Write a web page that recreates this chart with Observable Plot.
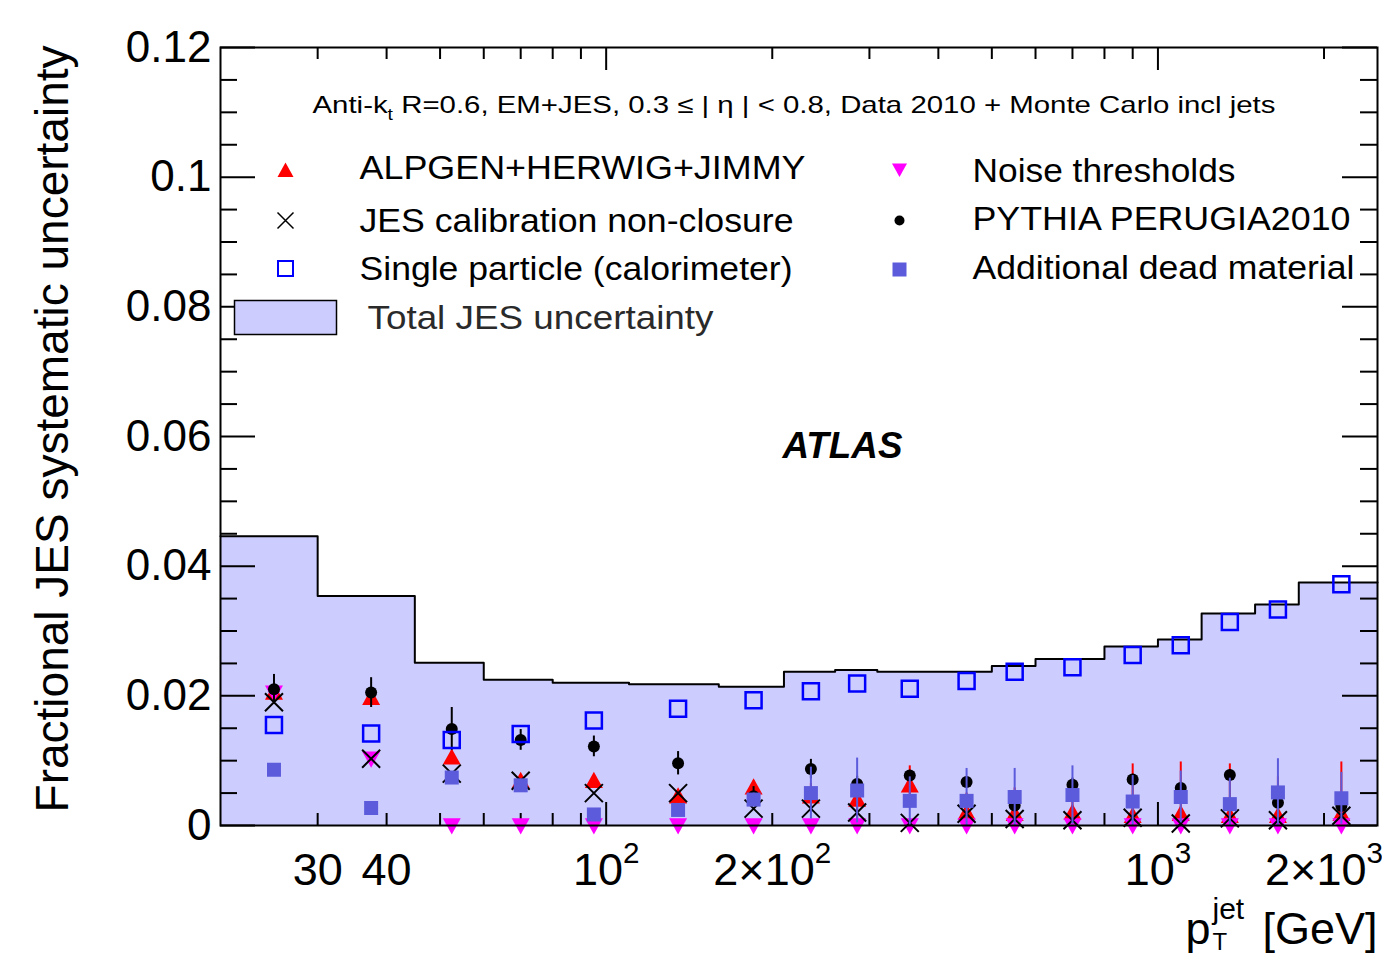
<!DOCTYPE html>
<html><head><meta charset="utf-8">
<script src="https://cdn.jsdelivr.net/npm/d3@7"></script>
<script src="https://cdn.jsdelivr.net/npm/@observablehq/plot@0.6"></script>
<style>body{margin:0;background:#fff}</style>
</head><body><div id="chart"></div>
<script>
// ---- data ----
const binEdges = [20,30,45,60,80,110,160,210,260,310,400,500,600,800,1000,1200,1500,1800,2500];
const totalJES = [0.0446,0.0354,0.0251,0.0225,0.0220,0.0218,0.0214,0.0237,0.0240,0.0237,0.0237,0.0246,0.0257,0.0276,0.0287,0.0327,0.0341,0.0375];
const ptCenters = [25,37.5,52.5,70,95,135,185,235,285,355,450,550,700,900,1100,1350,1650,2150];
const alpgen    = [0.0205,0.0197,0.0105,0.0069,0.0069,0.0045,0.0059,0.0045,0.0040,0.0062,0.0020,0.0018,0.0020,0.0015,0.0018,0.0015,0.0015,0.0018];
const alpgenErr = [0.0010,0.0010,0.0010,0.0008,0.0008,0.0010,0.0010,0.0020,0.0030,0.0030,0.0030,0.0040,0.0040,0.0080,0.0080,0.0080,0.0060,0.0080];
const noise     = [0.0205,0.0103,0,0,0,0,0,0,0,0,0,0,0,0,0,0,0,0];
const pythia    = [0.0210,0.0205,0.0149,0.0132,0.0122,0.0096,0.0045,0.0087,0.0064,0.0077,0.0067,0.0031,0.0063,0.0071,0.0058,0.0078,0.0035,0.0030];
const pythiaErr = [0.0023,0.0023,0.0033,0.0016,0.0016,0.0018,0.0015,0.0015,0.0012,0.0008,0.0008,0.0008,0.0010,0.0008,0.0008,0.0008,0.0008,0.0008];
const jesNonClosure = [0.0190,0.0103,0.0080,0.0069,0.0050,0.0050,0.0026,0.0026,0.0020,0.0004,0.0018,0.0010,0.0008,0.0012,0.0003,0.0011,0.0008,0.0015];
const singleParticle = [0.0155,0.0142,0.0132,0.0141,0.0162,0.0180,0.0193,0.0207,0.0219,0.0211,0.0223,0.0237,0.0244,0.0263,0.0278,0.0314,0.0333,0.0372];
const deadMaterial = [0.0086,0.0027,0.0074,0.0062,0.0017,0.0024,0.0040,0.0050,0.0054,0.0038,0.0038,0.0044,0.0047,0.0037,0.0044,0.0033,0.0051,0.0042];
const deadErr      = [0,0,0,0,0.0005,0.0008,0.0010,0.0040,0.0050,0.0037,0.0050,0.0044,0.0045,0.0040,0.0040,0.0040,0.0052,0.0040];

const yTickValues = [0,0.02,0.04,0.06,0.08,0.1,0.12];
const yTickLabels = ["0","0.02","0.04","0.06","0.08","0.1","0.12"];
const yMinorValues = d3.range(0,0.1201,0.005).filter(v => !yTickValues.some(t => Math.abs(t-v)<1e-9));
const xTickValues = [30,40,100,200,1000,2000];
const xTickLabels = ["30","40","10^{2}","2\u00D710^{2}","10^{3}","2\u00D710^{3}"];
const xMajorValues = [100,1000];
const xMinorValues = [30,40,50,60,70,80,90,200,300,400,500,600,700,800,900,2000];

const headerText = "Anti-k_{t} R=0.6, EM+JES, 0.3 \u2264 | \u03B7 | < 0.8, Data 2010 + Monte Carlo incl jets";
const legendLeft = ["ALPGEN+HERWIG+JIMMY","JES calibration non-closure","Single particle (calorimeter)"];
const legendRight = ["Noise thresholds","PYTHIA PERUGIA2010","Additional dead material"];
const totalLabel = "Total JES uncertainty";
const yLabel = "Fractional JES systematic uncertainty";

// ---- tables ----
const steps = binEdges.map((e,i) => ({x: e, y: totalJES[Math.min(i, totalJES.length-1)]}));
const pts = ptCenters.map((x,i) => ({x, alpgen: alpgen[i], alpgenErr: alpgenErr[i], noise: noise[i], pythia: pythia[i], pythiaErr: pythiaErr[i], jes: jesNonClosure[i], single: singleParticle[i], dead: deadMaterial[i], deadErr: deadErr[i]}));

// ---- styles ----
const FILL = "#ccccff", DEAD = "#5b5bdc", PX_PER_DECADE = 1157/Math.log10(2500/20), PX_PER_Y = 778/0.12;
const sym = fn => ({draw(c, size){ const r = Math.sqrt(size/Math.PI); fn(c, r); }});
const triUp = sym((c,r)=>{c.moveTo(0,-r); c.lineTo(r,r*0.8); c.lineTo(-r,r*0.8); c.closePath();});
const triDown = sym((c,r)=>{c.moveTo(0,r); c.lineTo(r,-r*0.8); c.lineTo(-r,-r*0.8); c.closePath();});
const sq = sym((c,r)=>{c.moveTo(-r,-r); c.lineTo(r,-r); c.lineTo(r,r); c.lineTo(-r,r); c.closePath();});
const cross = sym((c,r)=>{c.moveTo(-r,-r); c.lineTo(r,r); c.moveTo(r,-r); c.lineTo(-r,r);});
const boxSym = {draw(c){ c.moveTo(-51,-17); c.lineTo(51,-17); c.lineTo(51,17); c.lineTo(-51,17); c.closePath(); }};

const xLen = px => 20*Math.pow(10, px/PX_PER_DECADE);
const xLenR = px => 2500/Math.pow(10, px/PX_PER_DECADE);
const yLen = px => px/PX_PER_Y;

const legendFont = 34;
const marks = [
  Plot.areaY(steps, {x:"x", y:"y", curve:"step-after", fill: FILL}),
  Plot.lineY(steps, {x:"x", y:"y", curve:"step-after", stroke:"black", strokeWidth: 2}),
  // ticks
  Plot.ruleY(yTickValues, {y: d=>d, x1: 20, x2: xLen(35), stroke:"black", strokeWidth: 2}),
  Plot.ruleY(yMinorValues, {y: d=>d, x1: 20, x2: xLen(17), stroke:"black", strokeWidth: 2}),
  Plot.ruleY(yTickValues, {y: d=>d, x1: xLenR(35), x2: 2500, stroke:"black", strokeWidth: 2}),
  Plot.ruleY(yMinorValues, {y: d=>d, x1: xLenR(17), x2: 2500, stroke:"black", strokeWidth: 2}),
  Plot.ruleX(xMajorValues, {x: d=>d, y1: 0, y2: yLen(23), stroke:"black", strokeWidth: 2}),
  Plot.ruleX(xMinorValues, {x: d=>d, y1: 0, y2: yLen(12), stroke:"black", strokeWidth: 2}),
  Plot.ruleX(xMajorValues, {x: d=>d, y1: 0.12 - yLen(23), y2: 0.12, stroke:"black", strokeWidth: 2}),
  Plot.ruleX(xMinorValues, {x: d=>d, y1: 0.12 - yLen(12), y2: 0.12, stroke:"black", strokeWidth: 2}),
  // series
  Plot.ruleX(pts, {x:"x", y1: d=>Math.max(0,d.alpgen-d.alpgenErr), y2: d=>d.alpgen+d.alpgenErr, stroke:"red", strokeWidth: 2}),
  Plot.dot(pts, {x:"x", y:"alpgen", symbol: triUp, r: 9, fill:"red", stroke:"none"}),
  Plot.dot(pts, {x:"x", y:"noise", symbol: triDown, r: 9, fill:"#ff00ff", stroke:"none"}),
  Plot.ruleX(pts, {x:"x", y1: d=>Math.max(0,d.pythia-d.pythiaErr), y2: d=>d.pythia+d.pythiaErr, stroke:"black", strokeWidth: 2}),
  Plot.dot(pts, {x:"x", y:"pythia", r: 6, fill:"black", stroke:"none"}),
  Plot.dot(pts, {x:"x", y:"jes", symbol: cross, r: 9, fill:"none", stroke:"black", strokeWidth: 2}),
  Plot.dot(pts, {x:"x", y:"single", symbol: sq, r: 8, fill:"none", stroke:"#0000ff", strokeWidth: 2.5}),
  Plot.ruleX(pts.filter(d=>d.deadErr>0), {x:"x", y1: d=>Math.max(0,d.dead-d.deadErr), y2: d=>d.dead+d.deadErr, stroke: DEAD, strokeWidth: 2}),
  Plot.dot(pts, {x:"x", y:"dead", symbol: sq, r: 7, fill: DEAD, stroke:"none"}),
  Plot.frame({stroke:"black", strokeWidth: 2}),
  // axis labels
  Plot.text(yTickValues, {y: d=>d, frameAnchor:"left", dx:-9, textAnchor:"end", lineAnchor:"middle", text:(d,i)=>yTickLabels[i], fontSize: 44, fill:"black"}),
  Plot.text(xTickValues, {x: d=>d, frameAnchor:"bottom", dy: 45, textAnchor:"middle", lineAnchor:"middle", text:(d,i)=>xTickLabels[i], fontSize: 45, fill:"black"}),
  Plot.text([yLabel], {frameAnchor:"top-left", dx:-167, dy:-2, rotate:-90, textAnchor:"end", lineAnchor:"middle", fontSize: 46, fill:"black"}),
  Plot.text(["p"], {frameAnchor:"bottom-right", dx:-192, dy:104, textAnchor:"start", lineAnchor:"middle", fontSize: 45, fill:"black"}),
  Plot.text(["jet"], {frameAnchor:"bottom-right", dx:-165, dy:84, textAnchor:"start", lineAnchor:"middle", fontSize: 30, fill:"black"}),
  Plot.text(["T"], {frameAnchor:"bottom-right", dx:-165, dy:117, textAnchor:"start", lineAnchor:"middle", fontSize: 24, fill:"black"}),
  Plot.text(["[GeV]"], {frameAnchor:"bottom-right", dx:0, dy:104, textAnchor:"end", lineAnchor:"middle", fontSize: 45, fill:"black"}),
  // header / annotations
  Plot.text([headerText], {frameAnchor:"top-left", dx:92, dy:57.5, textAnchor:"start", lineAnchor:"middle", fontSize: 24, fill:"black"}),
  Plot.text(["ATLAS"], {frameAnchor:"top-left", dx:622, dy:399, textAnchor:"middle", lineAnchor:"middle", fontSize: 36, fontWeight:"bold", fontStyle:"italic", fill:"black"}),
  // legend symbols
  Plot.dot([0], {frameAnchor:"top-left", dx:65, dy:123, symbol: triUp, r: 8, fill:"red", stroke:"none"}),
  Plot.dot([0], {frameAnchor:"top-left", dx:65, dy:173, symbol: cross, r: 8, fill:"none", stroke:"black", strokeWidth:1.5}),
  Plot.dot([0], {frameAnchor:"top-left", dx:65, dy:221, symbol: sq, r: 7.5, fill:"none", stroke:"#0000ff", strokeWidth:2}),
  Plot.dot([0], {frameAnchor:"top-left", dx:65, dy:270, symbol: boxSym, fill: FILL, stroke:"black", strokeWidth:1.5}),
  Plot.dot([0], {frameAnchor:"top-left", dx:679, dy:122, symbol: triDown, r: 7.5, fill:"#ff00ff", stroke:"none"}),
  Plot.dot([0], {frameAnchor:"top-left", dx:679, dy:173, r: 5, fill:"black", stroke:"none"}),
  Plot.dot([0], {frameAnchor:"top-left", dx:679, dy:222, symbol: sq, r: 7, fill: DEAD, stroke:"none"}),
  Plot.text([totalLabel], {frameAnchor:"top-left", dx:147, dy:270.5, textAnchor:"start", lineAnchor:"middle", fontSize: 34, fill:"#2a2a2a"})
];
const leftDy = [121,174,222], rightDy = [124,172,221];
legendLeft.forEach((t,i) => marks.push(Plot.text([t], {frameAnchor:"top-left", dx:139, dy:leftDy[i], textAnchor:"start", lineAnchor:"middle", fontSize: legendFont, fill:"black"})));
legendRight.forEach((t,i) => marks.push(Plot.text([t], {frameAnchor:"top-left", dx:752, dy:rightDy[i], textAnchor:"start", lineAnchor:"middle", fontSize: legendFont, fill:"black"})));

const chart = Plot.plot({
  width: 1382, height: 959,
  marginLeft: 220, marginRight: 5, marginTop: 47, marginBottom: 134,
  x: {type:"log", domain:[20,2500], axis:null},
  y: {domain:[0,0.12], axis:null},
  style: {fontFamily:"'Liberation Sans', Arial, Helvetica, sans-serif", background:"white", overflow:"hidden"},
  marks
});
document.getElementById("chart").appendChild(chart);

// rich text: ^{..} superscript, _{..} subscript
const NS = "http://www.w3.org/2000/svg";
chart.querySelectorAll("text").forEach(el => {
  const s = el.textContent;
  if (!/[\^_]\{/.test(s)) return;
  const fs = parseFloat(getComputedStyle(el).fontSize);
  el.textContent = "";
  const re = /([\^_])\{([^}]*)\}/g;
  let last = 0, m, shift = 0;
  const add = (str, dy, size) => {
    const t = document.createElementNS(NS, "tspan");
    t.textContent = str;
    if (dy) t.setAttribute("dy", dy);
    if (size) t.setAttribute("font-size", size);
    el.appendChild(t);
  };
  while ((m = re.exec(s))) {
    if (m.index > last) { add(s.slice(last, m.index), -shift); shift = 0; }
    const d = m[1] === "^" ? -0.48*fs : 0.3*fs;
    add(m[2], d - shift, 0.66*fs);
    shift = d;
    last = re.lastIndex;
  }
  if (last < s.length) add(s.slice(last), -shift);
});
// fit widths of annotation texts to the reference
const widths = new Map([["ALPGEN+HERWIG+JIMMY",446],["JES calibration non-closure",434],["Single particle (calorimeter)",433],["Noise thresholds",263],["PYTHIA PERUGIA2010",378],["Additional dead material",382],["Total JES uncertainty",346],["ATLAS",120]]);
chart.querySelectorAll("text").forEach(el => {
  const s = el.textContent;
  let w = widths.get(s);
  if (s.startsWith("Anti-k")) w = 963;
  if (w) { el.setAttribute("textLength", w); el.setAttribute("lengthAdjust", "spacingAndGlyphs"); }
});
</script>
</body></html>
